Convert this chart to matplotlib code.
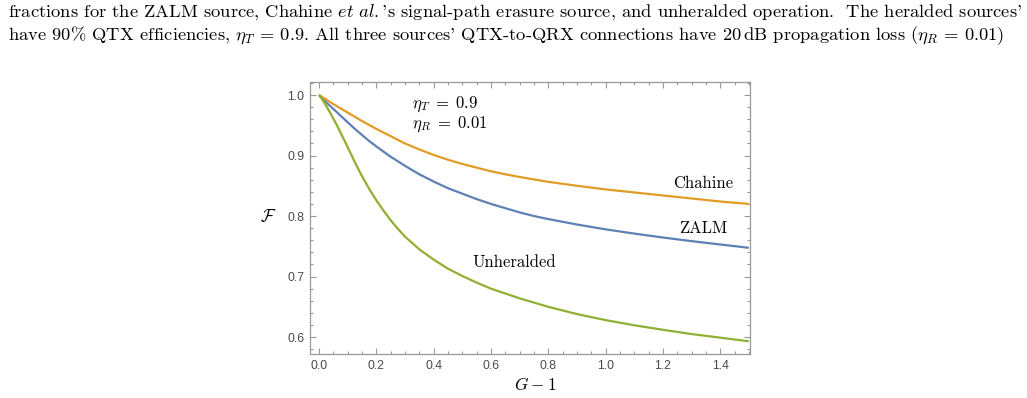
import matplotlib
matplotlib.use('Agg')
import matplotlib.pyplot as plt
from matplotlib.ticker import MultipleLocator

# Шрифти: цифри тиків без засічок, решта в стилі LaTeX
plt.rcParams['font.family'] = 'Liberation Sans'
plt.rcParams['mathtext.fontset'] = 'cm'
plt.rcParams['axes.unicode_minus'] = False

# Дані
g_zalm = [0.0, 0.025, 0.05, 0.075, 0.1, 0.125, 0.15, 0.175, 0.2, 0.25, 0.3, 0.35, 0.4, 0.45, 0.5, 0.55, 0.6,
          0.65, 0.7, 0.75, 0.8, 0.9, 1.0, 1.1, 1.2, 1.3, 1.4, 1.5]
f_zalm = [1.0, 0.988, 0.977, 0.966, 0.955, 0.944, 0.934, 0.924, 0.915, 0.898, 0.883, 0.869, 0.857, 0.846,
          0.837, 0.828, 0.820, 0.813, 0.806, 0.800, 0.795, 0.786, 0.778, 0.771, 0.7645, 0.7585, 0.753, 0.7475]

g_chahine = [0.0, 0.025, 0.05, 0.075, 0.1, 0.125, 0.15, 0.175, 0.2, 0.25, 0.3, 0.35, 0.4, 0.45, 0.5, 0.55,
             0.6, 0.65, 0.7, 0.75, 0.8, 0.9, 1.0, 1.1, 1.2, 1.3, 1.4, 1.5]
f_chahine = [1.0, 0.9925, 0.985, 0.978, 0.971, 0.964, 0.957, 0.9505, 0.944, 0.932, 0.920, 0.910, 0.901,
             0.893, 0.886, 0.880, 0.874, 0.869, 0.8645, 0.8605, 0.8565, 0.850, 0.844, 0.839, 0.834, 0.829,
             0.824, 0.820]

g_unher = [0.0, 0.0125, 0.025, 0.0375, 0.05, 0.0625, 0.075, 0.0875, 0.1, 0.125, 0.15, 0.175, 0.2, 0.225,
           0.25, 0.275, 0.3, 0.35, 0.4, 0.45, 0.5, 0.55, 0.6, 0.65, 0.7, 0.75, 0.8, 0.9, 1.0, 1.1, 1.2, 1.3,
           1.4, 1.5]
f_unher = [1.0, 0.992, 0.982, 0.972, 0.961, 0.950, 0.938, 0.926, 0.914, 0.889, 0.866, 0.845, 0.826, 0.809,
           0.793, 0.779, 0.766, 0.745, 0.728, 0.713, 0.701, 0.690, 0.680, 0.672, 0.664, 0.657, 0.650, 0.638,
           0.628, 0.6195, 0.612, 0.605, 0.599, 0.593]

caption = [
    r"fractions for the ZALM source, Chahine $\mathit{et\ al.}$'s signal-path erasure source, and unheralded operation.  The heralded sources'",
    r"have 90% QTX efficiencies, $\eta_T\,=\,0.9$. All three sources' QTX-to-QRX connections have 20$\,$dB propagation loss ($\eta_R\,=\,0.01$)",
]

blue = '#5E81B5'
orange = '#E19C24'
green = '#8FB032'
frame = '#999999'

fig = plt.figure(figsize=(10.27, 3.98), dpi=100)
ax = fig.add_axes([310 / 1027, 1 - 354 / 398, 440 / 1027, 272 / 398])

ax.plot(g_zalm, f_zalm, color=blue, lw=1.6, solid_capstyle='butt', solid_joinstyle='round')
ax.plot(g_chahine, f_chahine, color=orange, lw=1.6, solid_capstyle='butt', solid_joinstyle='round')
ax.plot(g_unher, f_unher, color=green, lw=1.6, solid_capstyle='butt', solid_joinstyle='round')

ax.set_xlim(-0.0314, 1.504)
ax.set_ylim(0.572, 1.0215)

# Тики з усіх боків, всередину
ax.xaxis.set_major_locator(MultipleLocator(0.2))
ax.xaxis.set_minor_locator(MultipleLocator(0.05))
ax.yaxis.set_major_locator(MultipleLocator(0.1))
ax.yaxis.set_minor_locator(MultipleLocator(0.02))
ax.xaxis.set_major_formatter(plt.FuncFormatter(lambda v, p: f'{v:.1f}'))
ax.yaxis.set_major_formatter(plt.FuncFormatter(lambda v, p: f'{v:.1f}'))
ax.tick_params(which='both', direction='in', top=True, right=True, color=frame, width=0.8,
               labelsize=8.7, labelcolor='#4a4a4a')
ax.tick_params(which='major', length=4.5, pad=4)
ax.tick_params(which='minor', length=2.5)
for s in ax.spines.values():
    s.set_color(frame)
    s.set_linewidth(0.9)

# Підписи осей
fig.text(535 / 1027, 1 - 385 / 398, r'$G-1$', ha='center', va='center', fontsize=12.5)
fig.text(268 / 1027, 1 - 216 / 398, r'$\mathcal{F}$', ha='center', va='center', fontsize=12.5)

# Підписи кривих
ax.text(0.325, 0.985, r'$\eta_T\;=\;0.9$', fontsize=12, va='center', ha='left')
ax.text(0.325, 0.951, r'$\eta_R\;=\;0.01$', fontsize=12, va='center', ha='left')
ax.text(1.342, 0.8545, 'Chahine', family='cmr10', fontsize=12, ha='center', va='center')
ax.text(1.339, 0.780, 'ZALM', family='cmr10', fontsize=12, ha='center', va='center')
ax.text(0.681, 0.7228, 'Unheralded', family='cmr10', fontsize=12, ha='center', va='center')

# Підпис рисунка зверху
fig.text(8 / 1027, 1 - 17 / 398, caption[0], family='cmr10', fontsize=13.3, ha='left', va='baseline')
fig.text(8 / 1027, 1 - 40 / 398, caption[1], family='cmr10', fontsize=13.3, ha='left', va='baseline')

fig.savefig('out.png', dpi=100)
